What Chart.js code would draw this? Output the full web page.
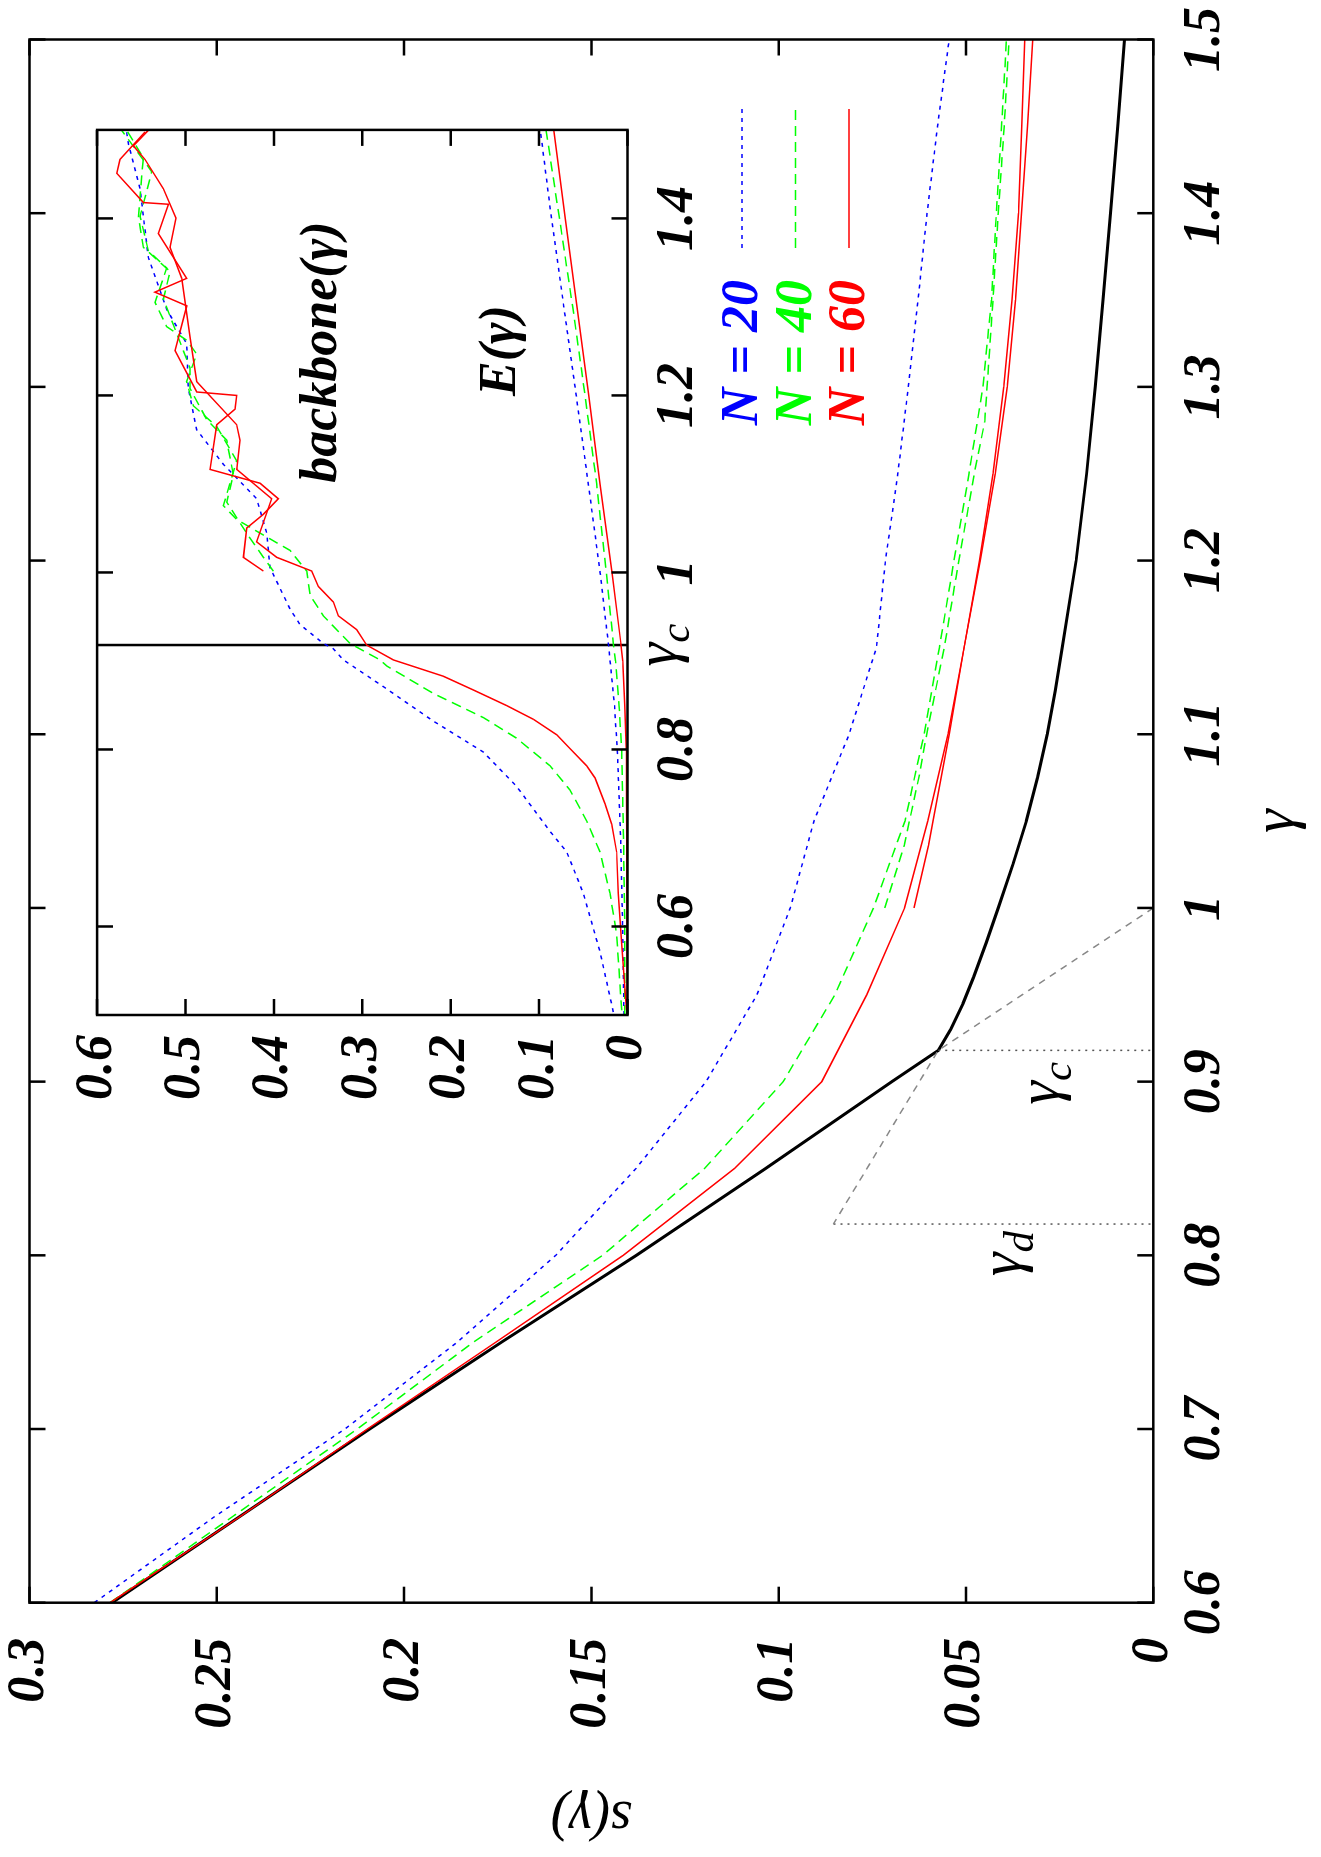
<!DOCTYPE html>
<html>
<head>
<meta charset="utf-8">
<script src="https://cdn.jsdelivr.net/npm/chart.js@4.4.1/dist/chart.umd.min.js"></script>
<style>
  html, body { margin: 0; padding: 0; background: #fff; overflow: hidden; }
  body { width: 1321px; height: 1857px; position: relative; }
  /* the figure is drawn upright (1857 x 1321) and then turned a quarter to the left */
  #wrap { position: absolute; left: 0; top: 0; width: 1857px; height: 1321px;
          transform-origin: 0 0; transform: translate(0, 1857px) rotate(-90deg); }
  #mainBox { position: absolute; left: 0; top: 0; width: 1857px; height: 1321px; }
  #insetBox { position: absolute; left: 700px; top: 60px; width: 1060px; height: 660px; }
</style>
</head>
<body>
<div id="wrap">
  <div id="mainBox"><canvas id="main" width="1857" height="1321"></canvas></div>
  <div id="insetBox"><canvas id="inset" width="1060" height="660"></canvas></div>
</div>
<script>
const family = '"Liberation Serif", "DejaVu Serif", serif';

// ---------- main panel: s(gamma) ----------
const mainGammaTicks = [0.6, 0.7, 0.8, 0.9, 1.0, 1.1, 1.2, 1.3, 1.4, 1.5];
const mainSTicks = [0, 0.05, 0.1, 0.15, 0.2, 0.25, 0.3];

const gammaTheory = [0.6, 0.65, 0.7, 0.75, 0.8, 0.85, 0.9, 0.918, 0.93, 0.945, 0.96, 0.98, 1.0, 1.025, 1.05, 1.075, 1.1, 1.125, 1.15, 1.2, 1.25, 1.3, 1.35, 1.4, 1.45, 1.5];
const sTheory = [0.278, 0.2436, 0.2092, 0.174, 0.138, 0.1035, 0.0698, 0.0574, 0.0541, 0.0508, 0.048, 0.0446, 0.0414, 0.0375, 0.0339, 0.0309, 0.0283, 0.0262, 0.0243, 0.0206, 0.0178, 0.0155, 0.0134, 0.0114, 0.0095, 0.0077];

const gammaN = [0.6, 0.65, 0.7, 0.75, 0.8, 0.85, 0.9, 0.95, 1.0, 1.05, 1.1, 1.15, 1.2, 1.25, 1.3, 1.35, 1.4, 1.45, 1.5];
const sN20 = [0.2827, 0.2503, 0.2158, 0.1858, 0.1595, 0.1381, 0.1194, 0.1058, 0.0969, 0.0906, 0.0812, 0.0739, 0.0715, 0.0682, 0.0654, 0.0628, 0.0604, 0.0576, 0.0545];
const sN40 = [0.2785, 0.2455, 0.2125, 0.1815, 0.147, 0.1198, 0.0988, 0.085, 0.0747, 0.0663, 0.0612, 0.0571, 0.0532, 0.0492, 0.0455, 0.0432, 0.0419, 0.0405, 0.0392];
const sN60 = [0.2785, 0.2435, 0.2098, 0.1755, 0.1415, 0.1118, 0.0885, 0.0765, 0.0664, 0.0602, 0.0548, 0.0505, 0.0464, 0.0428, 0.0399, 0.0377, 0.036, 0.0351, 0.0343];

// second runs that start at gamma = 1
const gammaN40b = [1.0, 1.036, 1.077, 1.1, 1.15, 1.19, 1.25, 1.28, 1.35, 1.4, 1.45, 1.5];
const sN40b = [0.0717, 0.0665, 0.0624, 0.0605, 0.0558, 0.0527, 0.0478, 0.045, 0.0428, 0.0414, 0.0398, 0.0385];
const gammaN60b = [1.0, 1.036, 1.05, 1.1, 1.15, 1.2, 1.25, 1.3, 1.35, 1.4, 1.45, 1.5];
const sN60b = [0.0639, 0.060, 0.0588, 0.0545, 0.0505, 0.0462, 0.0422, 0.039, 0.0368, 0.0352, 0.0336, 0.0322];

// gamma_d / gamma_c construction
const gammaC = 0.918;
const gammaD = 0.818;
const sAtGammaC = 0.0574;
const sAtGammaD = 0.0854;
const tangentGamma = [1.0, gammaC, gammaD];
const tangentS = [0, sAtGammaC, sAtGammaD];

const seriesNames = ['N = 20', 'N = 40', 'N = 60'];

// ---------- inset: backbone(gamma) and E(gamma) ----------
const insetGammaTicks = [0.6, 0.8, 1.0, 1.2, 1.4];
const insetYTicks = [0, 0.1, 0.2, 0.3, 0.4, 0.5, 0.6];

const bbGammaN20 = [0.5033, 0.5714, 0.6376, 0.6843, 0.7076, 0.7582, 0.7971, 0.8321, 0.871, 0.9012, 0.9138, 0.9198, 0.9411, 0.9588, 1.0054, 1.0444, 1.0833, 1.1222, 1.1611, 1.2078, 1.2584, 1.2973, 1.3557, 1.4335, 1.484, 1.5];
const bbN20 = [0.016, 0.0311, 0.05, 0.0688, 0.0877, 0.1254, 0.1631, 0.2197, 0.2762, 0.3214, 0.3328, 0.3441, 0.3705, 0.3818, 0.4044, 0.4081, 0.4195, 0.4572, 0.4873, 0.4968, 0.4987, 0.5213, 0.542, 0.5514, 0.5646, 0.567];

const bbGammaN40 = [0.5053, 0.5909, 0.6376, 0.6843, 0.7193, 0.7543, 0.7816, 0.8127, 0.836, 0.8633, 0.8944, 0.9012, 0.9198, 0.951, 0.9743, 1.0016, 1.025, 1.0444, 1.0599, 1.0755, 1.1261, 1.165, 1.1883, 1.2156, 1.2467, 1.2623, 1.2778, 1.3051, 1.344, 1.3634, 1.4024, 1.4529, 1.4996];
const bbN40 = [0.0066, 0.0123, 0.0198, 0.0311, 0.0462, 0.0651, 0.0877, 0.1254, 0.163, 0.2196, 0.2724, 0.2799, 0.3139, 0.3441, 0.3591, 0.3629, 0.3818, 0.4157, 0.4421, 0.4572, 0.4421, 0.4647, 0.4911, 0.4987, 0.4873, 0.4987, 0.5213, 0.5345, 0.5213, 0.542, 0.5514, 0.5382, 0.5722];
const bbGammaN40b = [1.0014, 1.0171, 1.0444, 1.0794, 1.1105, 1.1494, 1.1728, 1.2078, 1.2311, 1.2701, 1.309, 1.3401, 1.3673, 1.4024, 1.4685, 1.4996];
const bbN40b = [0.4006, 0.4119, 0.4308, 0.4534, 0.4459, 0.4534, 0.476, 0.4949, 0.4949, 0.51, 0.525, 0.5175, 0.5477, 0.5533, 0.5477, 0.5665];

const bbGammaN60 = [0.5053, 0.5792, 0.6376, 0.6843, 0.7154, 0.7387, 0.7679, 0.7816, 0.801, 0.8166, 0.8341, 0.8496, 0.8672, 0.8827, 0.9012, 0.9179, 0.9354, 0.951, 0.9666, 0.9841, 1.0016, 1.0171, 1.0346, 1.0833, 1.1164, 1.1494, 1.1669, 1.2156, 1.2662, 1.3323, 1.3673, 1.4004, 1.4335, 1.4666, 1.4821, 1.4996];
const bbN60 = [0.001, 0.0066, 0.0104, 0.0123, 0.0179, 0.0255, 0.0368, 0.0462, 0.0651, 0.0801, 0.1065, 0.1367, 0.1744, 0.2083, 0.2649, 0.295, 0.3063, 0.3271, 0.3327, 0.3497, 0.3572, 0.3968, 0.4195, 0.4025, 0.4421, 0.4383, 0.4421, 0.4873, 0.4949, 0.5043, 0.5175, 0.5107, 0.525, 0.5458, 0.559, 0.542];
const bbGammaN60b = [1.0016, 1.0171, 1.0502, 1.0658, 1.0833, 1.1008, 1.1164, 1.1669, 1.1845, 1.2, 1.2039, 1.2506, 1.3012, 1.3167, 1.3323, 1.3829, 1.416, 1.4179, 1.451, 1.4666, 1.4977];
const bbN60b = [0.4119, 0.4345, 0.4308, 0.4119, 0.395, 0.4157, 0.4723, 0.4647, 0.444, 0.4421, 0.4873, 0.5118, 0.4986, 0.5345, 0.4986, 0.5307, 0.5194, 0.5477, 0.5778, 0.5741, 0.5458];

const eGamma = [0.5, 0.6, 0.7, 0.8, 0.85, 0.9, 0.92, 1.0, 1.1, 1.2, 1.3, 1.4, 1.5];
const eN20 = [0.004, 0.0055, 0.0078, 0.0115, 0.0148, 0.0197, 0.0217, 0.031, 0.0443, 0.058, 0.072, 0.086, 0.0986];
const eN40 = [0.003, 0.003, 0.0045, 0.0066, 0.0095, 0.0135, 0.016, 0.024, 0.0349, 0.048, 0.062, 0.077, 0.0922];
const eN60 = [0.0003, 0.0005, 0.0008, 0.0015, 0.003, 0.0055, 0.0075, 0.0175, 0.0311, 0.0438, 0.057, 0.0703, 0.0835];

// ---------- styles ----------
const BLUE = '#0000ff', GREEN = '#00ff00', RED = '#ff0000';
const DASH20 = [4, 5], DASH40 = [10, 6], DASH60 = [];

function pts(xs, ys) {
  return xs.map((x, i) => ({ x: x, y: ys[i] }));
}
function line(xs, ys, color, width, dash) {
  return { data: pts(xs, ys), borderColor: color, borderWidth: width, borderDash: dash,
           pointRadius: 0, tension: 0, fill: false };
}
function fmt(v) {
  return String(+v.toFixed(2));
}
// keep the plot frame where it is: labels may hang over the edges
function noPad(s) {
  s.paddingTop = 0; s.paddingBottom = 0; s.paddingLeft = 0; s.paddingRight = 0;
}
const tickFont = { family: family, size: 52, style: 'italic', weight: 'bold', lineHeight: 1 };

function frameAndTicks(ctx, a, x, y, xt, yt, len) {
  ctx.strokeStyle = '#000';
  ctx.lineWidth = 2.5;
  ctx.setLineDash([]);
  ctx.strokeRect(a.left, a.top, a.right - a.left, a.bottom - a.top);
  ctx.beginPath();
  xt.forEach(v => {
    const p = x.getPixelForValue(v);
    ctx.moveTo(p, a.bottom); ctx.lineTo(p, a.bottom - len);
    ctx.moveTo(p, a.top); ctx.lineTo(p, a.top + len);
  });
  yt.forEach(v => {
    const p = y.getPixelForValue(v);
    ctx.moveTo(a.left, p); ctx.lineTo(a.left + len, p);
    ctx.moveTo(a.right, p); ctx.lineTo(a.right - len, p);
  });
  ctx.stroke();
}

// gamma with a subscript
function subLabel(ctx, cx, cy, main, sub, size, weight) {
  const f1 = 'italic ' + weight + ' ' + size + 'px ' + family;
  const f2 = 'italic ' + weight + ' ' + Math.round(size * 0.72) + 'px ' + family;
  ctx.font = f1;
  const w1 = ctx.measureText(main).width;
  ctx.font = f2;
  const w2 = ctx.measureText(sub).width;
  const x0 = cx - (w1 + w2) / 2;
  ctx.fillStyle = '#000';
  ctx.textAlign = 'left';
  ctx.textBaseline = 'alphabetic';
  ctx.font = f1;
  ctx.fillText(main, x0, cy);
  ctx.font = f2;
  ctx.fillText(sub, x0 + w1, cy + size * 0.22);
}

const mainDecor = {
  id: 'mainDecor',
  afterDraw(chart) {
    const { ctx, chartArea: a, scales: { x, y } } = chart;
    ctx.save();
    frameAndTicks(ctx, a, x, y, mainGammaTicks, mainSTicks, 16);

    subLabel(ctx, x.getPixelForValue(0.899), y.getPixelForValue(0.0276) + 8, 'γ', 'c', 60, 'normal');
    subLabel(ctx, x.getPixelForValue(0.801), y.getPixelForValue(0.0377) + 8, 'γ', 'd', 60, 'normal');

    // key: label on the left, line sample on the right
    const colors = [BLUE, GREEN, RED];
    const dashes = [DASH20, DASH40, DASH60];
    const rows = [742, 795.5, 849];
    ctx.font = 'italic bold 52px ' + family;
    ctx.textAlign = 'right';
    ctx.textBaseline = 'middle';
    seriesNames.forEach((name, i) => {
      ctx.fillStyle = colors[i];
      ctx.fillText(name, 1577, rows[i] + 2);
      ctx.strokeStyle = colors[i];
      ctx.lineWidth = 1.5;
      ctx.setLineDash(dashes[i]);
      ctx.beginPath();
      ctx.moveTo(1609, rows[i]);
      ctx.lineTo(1748, rows[i]);
      ctx.stroke();
    });
    ctx.restore();
  }
};

new Chart(document.getElementById('main'), {
  type: 'line',
  data: {
    datasets: [
      line(gammaN, sN60, RED, 1.5, DASH60),
      line(gammaN60b, sN60b, RED, 1.5, DASH60),
      line(gammaN, sN40, GREEN, 1.5, DASH40),
      line(gammaN40b, sN40b, GREEN, 1.5, DASH40),
      line(gammaN, sN20, BLUE, 1.5, DASH20),
      line(tangentGamma, tangentS, '#888888', 1.5, [7, 6]),
      line([gammaC, gammaC], [sAtGammaC, 0], '#555555', 1.5, [2, 5]),
      line([gammaD, gammaD], [sAtGammaD, 0], '#555555', 1.5, [2, 5]),
      line(gammaTheory, sTheory, '#000000', 3, [])
    ]
  },
  options: {
    responsive: false,
    animation: false,
    events: [],
    layout: { padding: { top: 29.5, right: 39.5, left: 0, bottom: 0 } },
    plugins: { legend: { display: false }, tooltip: { enabled: false } },
    scales: {
      x: {
        type: 'linear', min: 0.6, max: 1.5,
        afterBuildTicks: s => { s.ticks = mainGammaTicks.map(v => ({ value: v })); },
        afterFit: s => { s.height = 1321 - 1153.3; noPad(s); },
        grid: { display: false, drawTicks: false },
        border: { display: false },
        ticks: { autoSkip: false, maxRotation: 0, minRotation: 0, padding: 26, color: '#000',
                 font: tickFont, callback: v => fmt(v) },
        title: { display: true, text: 'γ', color: '#000',
                 font: { family: family, size: 60, style: 'italic', lineHeight: 1 },
                 padding: { top: 0, bottom: 14 } }
      },
      y: {
        type: 'linear', min: 0, max: 0.3,
        afterBuildTicks: s => { s.ticks = mainSTicks.map(v => ({ value: v })); },
        afterFit: s => { s.width = 254.3; noPad(s); },
        grid: { display: false, drawTicks: false },
        border: { display: false },
        ticks: { autoSkip: false, padding: 35, color: '#000', font: tickFont, callback: v => fmt(v) },
        title: { display: true, text: 's(γ)', color: '#000',
                 font: { family: family, size: 56, style: 'italic', lineHeight: 1 },
                 padding: { top: 12, bottom: 0 } }
      }
    }
  },
  plugins: [mainDecor]
});

const insetDecor = {
  id: 'insetDecor',
  beforeDraw(chart) {
    const { ctx, chartArea: a } = chart;
    ctx.save();
    ctx.fillStyle = '#fff';
    ctx.fillRect(a.left, a.top, a.right - a.left, a.bottom - a.top);
    ctx.restore();
  },
  afterDraw(chart) {
    const { ctx, chartArea: a, scales: { x, y } } = chart;
    ctx.save();
    frameAndTicks(ctx, a, x, y, insetGammaTicks, insetYTicks, 16);
    subLabel(ctx, x.getPixelForValue(gammaC), a.bottom + 48, 'γ', 'c', 60, 'normal');
    ctx.fillStyle = '#000';
    ctx.font = 'italic bold 52px ' + family;
    ctx.textAlign = 'center';
    ctx.textBaseline = 'middle';
    ctx.fillText('backbone(γ)', x.getPixelForValue(1.249), y.getPixelForValue(0.3445));
    ctx.fillText('E(γ)', x.getPixelForValue(1.2507), y.getPixelForValue(0.143));
    ctx.restore();
  }
};

new Chart(document.getElementById('inset'), {
  type: 'line',
  data: {
    datasets: [
      line(bbGammaN60, bbN60, RED, 1.5, DASH60),
      line(bbGammaN60b, bbN60b, RED, 1.5, DASH60),
      line(bbGammaN40, bbN40, GREEN, 1.5, DASH40),
      line(bbGammaN40b, bbN40b, GREEN, 1.5, DASH40),
      line(bbGammaN20, bbN20, BLUE, 1.5, DASH20),
      line(eGamma, eN60, RED, 1.5, DASH60),
      line(eGamma, eN40, GREEN, 1.5, DASH40),
      line(eGamma, eN20, BLUE, 1.5, DASH20),
      line([gammaC, gammaC], [0, 0.6], '#000000', 2.5, [])
    ]
  },
  options: {
    responsive: false,
    animation: false,
    events: [],
    layout: { padding: { top: 37.1, right: 32.9, left: 0, bottom: 0 } },
    plugins: { legend: { display: false }, tooltip: { enabled: false } },
    scales: {
      x: {
        type: 'linear', min: 0.5, max: 1.5,
        afterBuildTicks: s => { s.ticks = insetGammaTicks.map(v => ({ value: v })); },
        afterFit: s => { s.height = 660 - 567.5; noPad(s); },
        grid: { display: false, drawTicks: false },
        border: { display: false },
        ticks: { autoSkip: false, maxRotation: 0, minRotation: 0, padding: 25, color: '#000',
                 font: tickFont, callback: v => fmt(v) }
      },
      y: {
        type: 'linear', min: 0, max: 0.6,
        afterBuildTicks: s => { s.ticks = insetYTicks.map(v => ({ value: v })); },
        afterFit: s => { s.width = 142; noPad(s); },
        grid: { display: false, drawTicks: false },
        border: { display: false },
        ticks: { autoSkip: false, padding: 20, color: '#000', font: tickFont, callback: v => fmt(v) }
      }
    }
  },
  plugins: [insetDecor]
});
</script>
</body>
</html>
